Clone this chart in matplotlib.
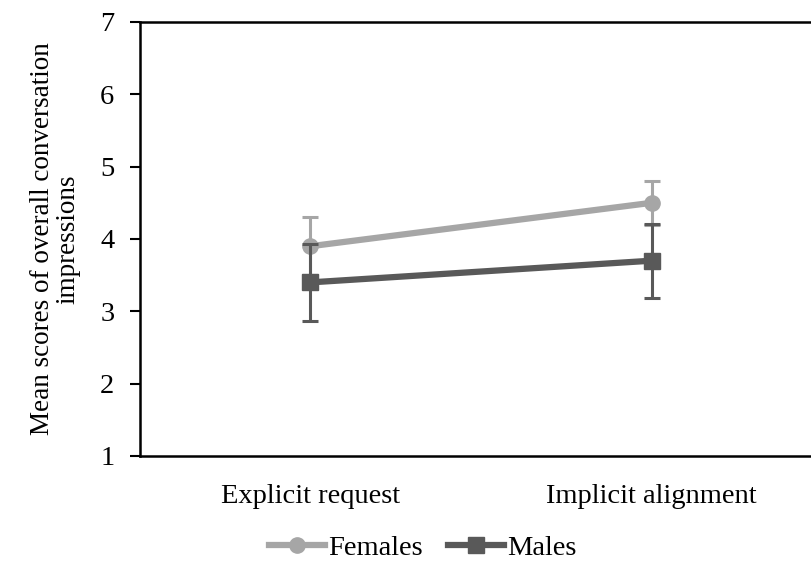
import numpy as np
import matplotlib
matplotlib.use("Agg")
import matplotlib.pyplot as plt
from matplotlib.lines import Line2D

conditions = ['Explicit request', 'Implicit alignment']
females = [3.9, 4.5]
females_err = [0.4, 0.3]
males = [3.4, 3.7]
males_err = [0.53, 0.51]

plt.rcParams['font.family'] = 'Liberation Serif'

fig = plt.figure(figsize=(8.11, 5.61), dpi=100)
# plot area runs a little past the right edge of the picture
ax = fig.add_axes([0.1726, 0.1872, 0.841, 0.7736])

x = np.arange(len(conditions)) + 0.5
fem_col = '#a6a6a6'
male_col = '#595959'

ax.errorbar(x, females, yerr=females_err, color=fem_col, lw=4.5, marker='o',
            ms=11, elinewidth=2.2, capsize=6, capthick=2.2, zorder=3, clip_on=False)
ax.errorbar(x, males, yerr=males_err, color=male_col, lw=4.5, marker='s',
            ms=11, elinewidth=2.2, capsize=6, capthick=2.2, zorder=4, clip_on=False)

ax.set_xlim(0, 2)
ax.set_ylim(1, 7)
ax.set_yticks(range(1, 8))
ax.set_xticks(x)
ax.set_xticklabels(conditions)
ax.tick_params(axis='y', direction='out', length=7.5, width=1.5, labelsize=20.5, pad=11)
ax.tick_params(axis='x', length=0, labelsize=20.5, pad=20)
ax.spines['right'].set_visible(False)
for s in ['left', 'bottom', 'top']:
    ax.spines[s].set_linewidth(1.8)
ax.set_ylabel('Mean scores of overall conversation\nimpressions', fontsize=19.5,
              labelpad=14, linespacing=1.05)

handles = [Line2D([], [], color=fem_col, lw=4.5, marker='o', ms=11),
           Line2D([], [], color=male_col, lw=4.5, marker='s', ms=11)]
fig.legend(handles, ['Females', 'Males'], loc='center', bbox_to_anchor=(0.521, 0.024),
           ncol=2, frameon=False, fontsize=20.5, handlelength=1.97,
           handletextpad=0.1, columnspacing=0.9)

fig.savefig('out.png', dpi=100)
